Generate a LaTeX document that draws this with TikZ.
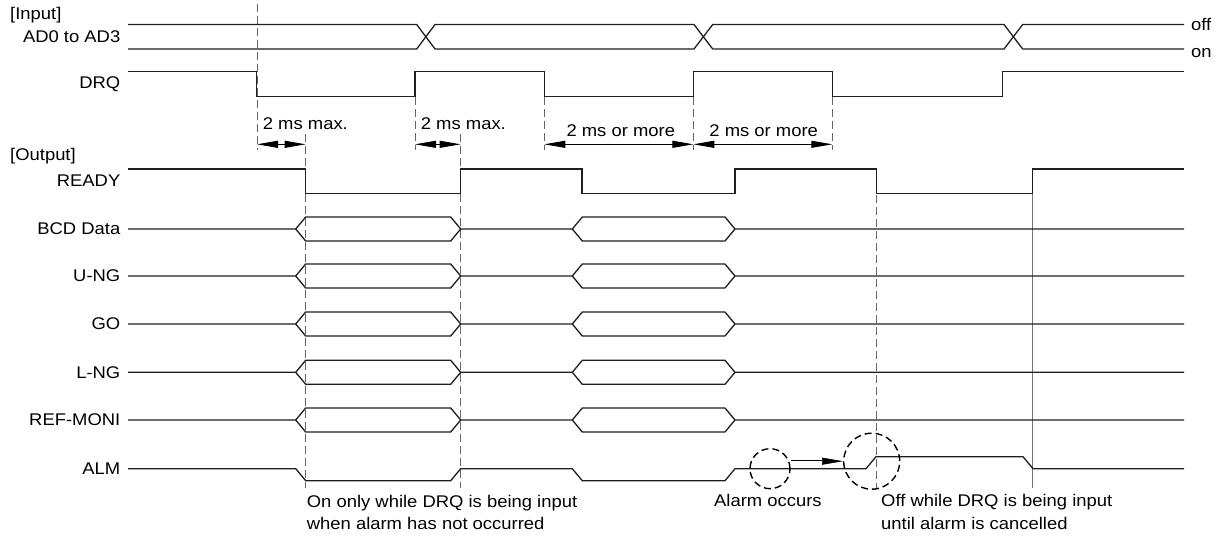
\documentclass[tikz,border=0pt]{standalone}
\usepackage{fontspec}
\setmainfont{Liberation Sans}[FakeStretch=1.09]
\usetikzlibrary{arrows.meta}
\begin{document}
\begin{tikzpicture}[x=1pt,y=-1pt,
  sig/.style={line width=1.3pt, draw=black!88, line join=miter},
  guide/.style={line width=1pt, draw=black!60, dash pattern=on 8pt off 4pt},
  lbl/.style={anchor=base east, inner sep=0pt, font=\fontsize{16.9}{20}\selectfont},
  txt/.style={anchor=base west, inner sep=0pt, font=\fontsize{16.9}{20}\selectfont},
  ctxt/.style={anchor=base, inner sep=0pt, font=\fontsize{16.9}{20}\selectfont},
  dim/.style={line width=1pt, {Triangle[length=21pt,width=7pt]}-{Triangle[length=21pt,width=7pt]}},
  ring/.style={circle, draw=black, line width=1.4pt, dash pattern=on 7pt off 4pt, inner sep=0pt}
]
\useasboundingbox (0,0) rectangle (1221,536);

% ---------- labels ----------
\node[txt] (input) at (10,19.5) {[Input]};
\node[lbl] (ad) at (120.5,42.7) {AD0 to AD3};
\node[txt] (off) at (1191,30.5) {off};
\node[txt] (on) at (1191,57) {on};
\node[lbl] (drq) at (120.5,88.3) {DRQ};
\node[txt] (output) at (10,160) {[Output]};
\node[lbl] (ready) at (120.5,186.7) {READY};
\node[lbl] (bcd) at (120.5,234.8) {BCD Data};
\node[lbl] (ung) at (120.5,281.8) {U-NG};
\node[lbl] (go) at (120.5,329.8) {GO};
\node[lbl] (lng) at (120.5,378.1) {L-NG};
\node[lbl] (ref) at (120.5,425.8) {REF-MONI};
\node[lbl] (alm) at (120.5,474.2) {ALM};

% ---------- guide lines ----------
\coordinate (g1t) at (257,4);      \coordinate (g1b) at (257,150);
\coordinate (g2t) at (305.7,134);  \coordinate (g2b) at (305.7,488);
\coordinate (g3t) at (415,97);     \coordinate (g3b) at (415,150);
\coordinate (g4t) at (460.7,134);  \coordinate (g4b) at (460.7,488);
\coordinate (g5t) at (544.3,97);   \coordinate (g5b) at (544.3,150);
\coordinate (g6t) at (693.3,97);   \coordinate (g6b) at (693.3,150);
\coordinate (g7t) at (832.3,97);   \coordinate (g7b) at (832.3,150);
\coordinate (g8t) at (876.2,195);  \coordinate (g8b) at (876.2,489);
\foreach \i in {1,...,8} \draw[guide] (g\i t) -- (g\i b);
\coordinate (s1t) at (1032.7,194); \coordinate (s1b) at (1032.7,488);
\draw[line width=1.1pt, draw=black!55] (s1t) -- (s1b);

% ---------- input signals ----------
\draw[sig] (128,24.5) -- (416.7,24.5) -- (435,49) -- (694,49) -- (712.7,24.5) -- (1004,24.5) -- (1022.7,49) -- (1184,49);
\draw[sig] (128,49) -- (416.7,49) -- (435,24.5) -- (694,24.5) -- (712.7,49) -- (1004,49) -- (1022.7,24.5) -- (1184,24.5);
\draw[sig] (128,71.7) -- (256.7,71.7) -- (256.7,96.3) -- (415,96.3) -- (415,71.7) -- (544.3,71.7) -- (544.3,96.3) -- (693.3,96.3) -- (693.3,71.7) -- (832.3,71.7) -- (832.3,96.3) -- (1002.7,96.3) -- (1002.7,71.7) -- (1184,71.7);

% ---------- dimension arrows ----------
\coordinate (a1) at (257,144.3);   \coordinate (a2) at (305.7,144.3);
\coordinate (a3) at (415,144.3);   \coordinate (a4) at (460.7,144.3);
\coordinate (a5) at (544.3,144.3); \coordinate (a6) at (693.3,144.3);
\coordinate (a7) at (832.3,144.3);
\draw[dim] (a1) -- (a2);
\draw[dim] (a3) -- (a4);
\draw[dim] (a5) -- (a6);
\draw[dim] (a6) -- (a7);
\node[txt] (t1) at (262.7,129.3) {2 ms max.};
\node[txt] (t2) at (420.7,129.3) {2 ms max.};
\node[ctxt] (t3) at (620.8,136) {2 ms or more};
\node[ctxt] (t4) at (763.7,136) {2 ms or more};

% ---------- output signals ----------
\draw[sig] (128,169) -- (305.7,169) -- (305.7,193.3) -- (460.7,193.3) -- (460.7,169) -- (582,169) -- (582,193.3) -- (735,193.3) -- (735,169) -- (876.5,169) -- (876.5,193.3) -- (1032.7,193.3) -- (1032.7,169) -- (1184,169);

\foreach \y in {229,276,324,372.3,420}{
  \draw[sig] (128,\y) -- (295.7,\y) -- (305.7,\y-12) -- (450.7,\y-12) -- (460.7,\y) -- (572.3,\y) -- (582.3,\y-12) -- (725,\y-12) -- (735,\y) -- (1184,\y);
  \draw[sig] (295.7,\y) -- (305.7,\y+12) -- (450.7,\y+12) -- (460.7,\y);
  \draw[sig] (572.3,\y) -- (582.3,\y+12) -- (725,\y+12) -- (735,\y);
}

\draw[sig] (128,468.7) -- (295.7,468.7) -- (305.7,480.7) -- (450.7,480.7) -- (460.7,468.7) -- (572.3,468.7) -- (582.3,480.7) -- (725,480.7) -- (735,468.7) -- (866,468.7) -- (876,456.7) -- (1023,456.7) -- (1033,468.7) -- (1184,468.7);

% ---------- alarm circles ----------
\node[ring, minimum size=40pt] (c1) at (770,468.7) {};
\node[ring, minimum size=56pt] (c2) at (871.7,461.2) {};
\draw[line width=0.6pt, double, double distance=1pt, -{Triangle[length=21pt,width=7pt]}] (c1.east |- c2.west) -- (c2.west);

% ---------- notes ----------
\node[txt] (n1) at (306.7,507.7) {On only while DRQ is being input};
\node[txt] (n2) at (306.7,529) {when alarm has not occurred};
\node[txt] (n3) at (714,506.7) {Alarm occurs};
\node[txt] (n4) at (881,506.7) {Off while DRQ is being input};
\node[txt] (n5) at (881,529) {until alarm is cancelled};
\end{tikzpicture}
\end{document}
